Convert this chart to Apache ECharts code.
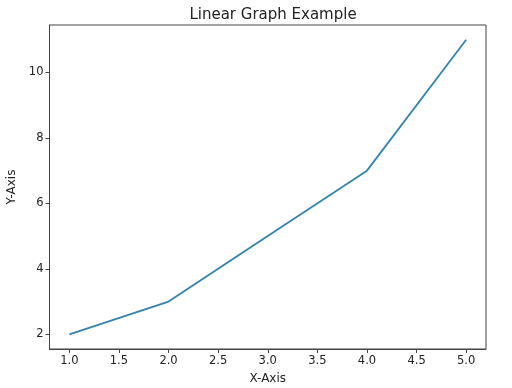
<!DOCTYPE html>
<html><head><meta charset="utf-8">
<script src="https://cdn.jsdelivr.net/npm/echarts@6/dist/echarts.min.js"></script>
<style>html,body{margin:0;padding:0;background:#fff}#c{width:512px;height:388px}</style>
</head><body><div id="c"></div>
<script>
const xValues = [1, 2, 3, 4, 5];
const yValues = [2, 3, 5, 7, 11];
const xTicks = [1.0, 1.5, 2.0, 2.5, 3.0, 3.5, 4.0, 4.5, 5.0];
const yTicks = [2, 4, 6, 8, 10];
const titleText = 'Linear Graph Example';
const xName = 'X-Axis';
const yName = 'Y-Axis';

const font = 'DejaVu Sans';
const chart = echarts.init(document.getElementById('c'), null, {renderer: 'canvas'});
chart.setOption({
  animation: false,
  backgroundColor: '#fff',
  title: {text: titleText, left: 268, top: 3, textAlign: 'center',
    textStyle: {fontFamily: font, fontSize: 15, fontWeight: 'normal', color: '#222'}},
  grid: {left: 49.5, right: 26, top: 25, bottom: 39, show: true, borderColor: '#444', borderWidth: 1,
    backgroundColor: 'transparent', containLabel: false, outerBoundsMode: 'none'},
  xAxis: {type: 'value', min: 0.8, max: 5.2,
    name: xName, nameLocation: 'middle', nameGap: 24,
    nameTextStyle: {fontFamily: font, fontSize: 12, color: '#222'},
    axisLine: {show: true, onZero: false, lineStyle: {color: '#444', width: 1}},
    axisTick: {show: true, length: 4, lineStyle: {color: '#444'}, customValues: xTicks},
    axisLabel: {fontFamily: font, fontSize: 11.5, color: '#222', margin: 6, customValues: xTicks,
      formatter: v => Number(v).toFixed(1)},
    splitLine: {show: false}},
  yAxis: {type: 'value', min: 1.55, max: 11.45,
    name: yName, nameLocation: 'middle', nameGap: 29, nameRotate: 90,
    nameTextStyle: {fontFamily: font, fontSize: 12, color: '#222'},
    axisLine: {show: true, onZero: false, lineStyle: {color: '#444', width: 1}},
    axisTick: {show: true, length: 4, lineStyle: {color: '#444'}, customValues: yTicks},
    axisLabel: {fontFamily: font, fontSize: 11.5, color: '#222', margin: 6, customValues: yTicks,
      formatter: v => String(Math.round(v))},
    splitLine: {show: false}},
  series: [{type: 'line', data: xValues.map((x, i) => [x, yValues[i]]),
    showSymbol: false, lineStyle: {color: '#3383b0', width: 1.8}, itemStyle: {color: '#3383b0'}}]
});
</script></body></html>
